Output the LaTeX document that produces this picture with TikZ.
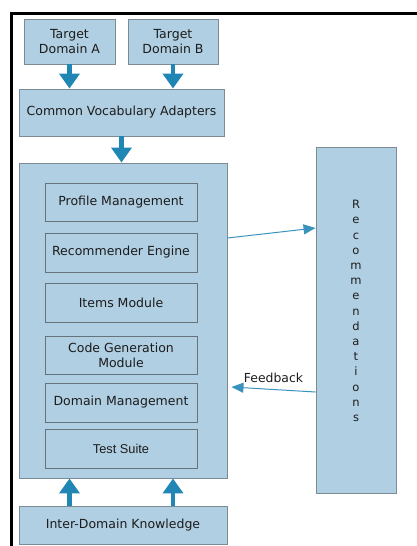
\documentclass[tikz,border=0pt]{standalone}
\usepackage{fontspec}
\setmainfont{DejaVu Sans}
\newfontfamily\arialfont{Liberation Sans}
\usetikzlibrary{arrows.meta}
\definecolor{boxfill}{HTML}{B0CFE3}
\definecolor{boxline}{HTML}{7D8B94}
\definecolor{innerline}{HTML}{66737B}
\definecolor{flow}{HTML}{2087B4}
\definecolor{thinflow}{HTML}{3A93BD}
\definecolor{txt}{HTML}{1C1C1C}
\tikzset{
  blk/.style={draw=boxline, fill=boxfill, line width=0.9pt, text=txt,
    align=center, inner sep=0pt,
    font=\fontsize{12.5}{15}\selectfont},
  inner/.style={blk, draw=innerline, minimum width=152pt},
  bigarrow/.style={draw=flow, line width=4.5pt,
    -{Triangle[width=20pt,length=15pt,fill=flow]}},
  thinarrow/.style={draw=thinflow, line width=1pt,
    -{Triangle[width=10pt,length=12pt,fill=thinflow]}}
}
\begin{document}
\begin{tikzpicture}[x=1pt,y=-1pt]
\useasboundingbox (0,0) rectangle (417,546);
% outer frame
\draw[line width=3pt, line cap=rect] (11.7,560) |- (430,13.8);

% top sources
\node[blk, minimum width=91pt, minimum height=45pt] (ta) at (69.5,41.5) {Target\\Domain A};
\node[blk, minimum width=90pt, minimum height=45pt] (tb) at (173,41.5) {Target\\Domain B};
\node[blk, minimum width=205pt, minimum height=47pt] (cva) at (121.5,112.5) {Common Vocabulary Adapters};

% core system
\node[blk, minimum width=208pt, minimum height=315pt] (core) at (123,320.5) {};
\node[inner, minimum height=38pt] (pm) at (121,202) {Profile Management};
\node[inner, minimum height=39pt] (re) at (121,252.5) {Recommender Engine};
\node[inner, minimum height=39pt] (im) at (121,302.5) {Items Module};
\node[inner, minimum height=38pt] (cg) at (121,355) {Code Generation\\Module};
\node[inner, minimum height=39pt] (dm) at (121,402.5) {Domain Management};
\node[inner, minimum height=39pt, font=\arialfont\fontsize{12.8}{15}\selectfont] (ts) at (121,448.5) {Test Suite};

% bottom knowledge base
\node[blk, minimum width=208pt, minimum height=38pt] (idk) at (123,525) {Inter-Domain Knowledge};

% output column
\node[blk, minimum width=80pt, minimum height=346pt] (rec) at (356,320) {};
\node[text=txt, align=center, inner sep=0pt, font=\fontsize{11.5}{15.2}\selectfont] (rectext) at (356,311)
  {R\\e\\c\\o\\m\\m\\e\\n\\d\\a\\t\\i\\o\\n\\s};

% flows
\draw[bigarrow] (ta.south) -- (ta.south |- cva.north);
\draw[bigarrow] (tb.south) -- (tb.south |- cva.north);
\draw[bigarrow] (cva.south) -- (cva.south |- core.north);
\draw[bigarrow] (ta.south |- idk.north) -- (ta.south |- core.south);
\draw[bigarrow] (tb.south |- idk.north) -- (tb.south |- core.south);

\draw[thinarrow] ([yshift=82.5pt]core.east) -- ([yshift=92pt]rec.west);
\draw[thinarrow] ([yshift=-72pt]rec.west) -- ([xshift=4pt,yshift=-66.5pt]core.east)
  node[pos=0.5, above=3pt, text=txt, font=\fontsize{12.4}{14}\selectfont] (fb) {Feedback};
\end{tikzpicture}
\end{document}
